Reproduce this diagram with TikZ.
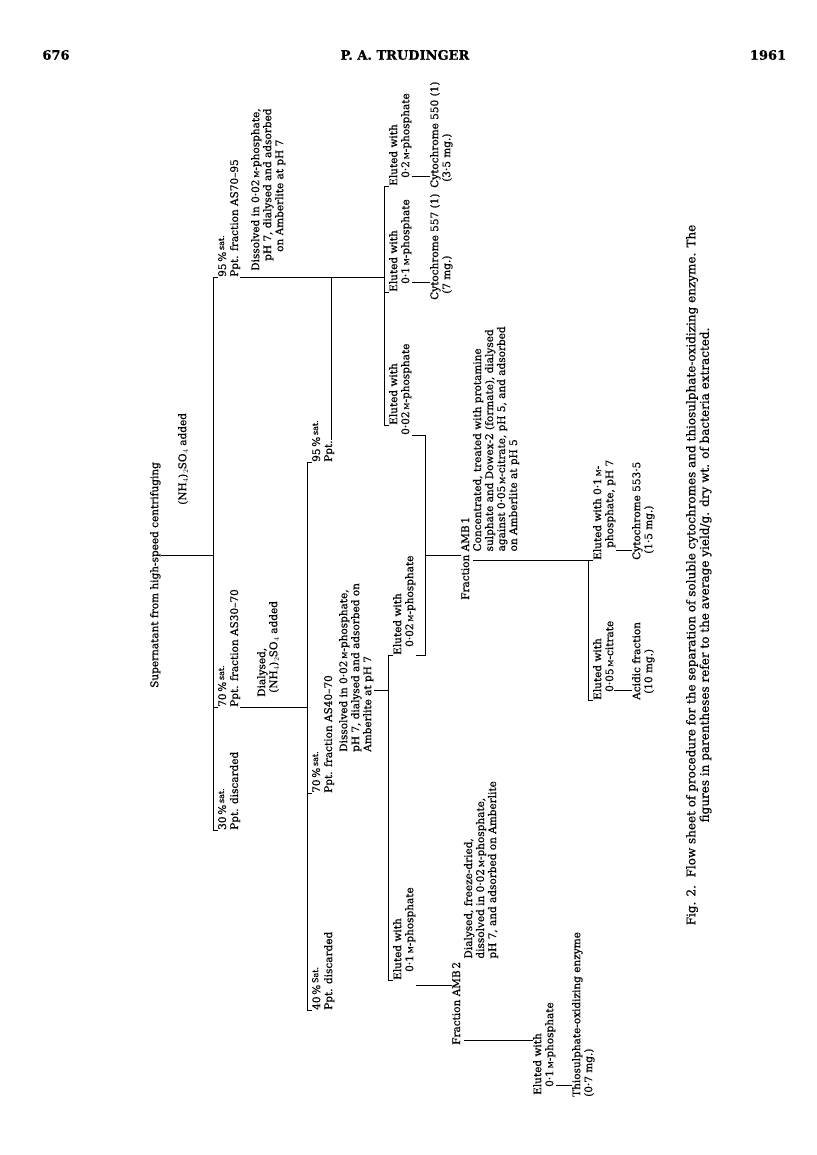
\documentclass[tikz,border=0pt]{standalone}
\usepackage{fontspec}
\setmainfont{DejaVu Serif}[FakeBold=0.6]
\usetikzlibrary{calc}
\newcommand{\Mol}{{\scriptsize M}}
\newcommand{\pcsat}[1]{\,\%\,\raisebox{2pt}{\footnotesize #1}}

\begin{document}
\begin{tikzpicture}[x=1pt, y=-1pt,
    txt/.style={rotate=90, anchor=north west, inner sep=0pt, align=left,
                font=\fontsize{10.5}{12}\selectfont},
    head/.style={inner sep=0pt, font=\fontsize{13}{15}\selectfont\bfseries},
    capt/.style={rotate=90, anchor=north, inner sep=0pt, align=center,
                 font=\fontsize{12}{13.5}\selectfont},
    ln/.style={line width=0.9pt}
]
\useasboundingbox (0,0) rectangle (816,1155);

% running head
\node[head] (pg) at (56,55) {676};
\node[head] (au) at (405,55) {P. A. TRUDINGER};
\node[head] (yr) at (768,55) {1961};

% first split
\node[txt] (root) at (150,688) {Supernatant from high-speed centrifuging};
\node[txt] (nh) at (178,505) {(NH$_4$)$_2$SO$_4$ added};
\coordinate (s0) at (0,555);

\node[txt] (c95) at (218,277) {95\pcsat{sat.}\\Ppt. fraction AS70--95};
\node[txt] (c70) at (218,707) {70\pcsat{sat.}\\Ppt. fraction AS30--70};
\node[txt] (c30) at (218,830) {30\pcsat{sat.}\\Ppt. discarded};
\draw[ln] (c95.north west) -- ++(-5,0) coordinate (b1) |- (c30.north west);
\draw[ln] (c70.north west) -- (c70.north west -| b1);
\draw[ln] (root.south |- s0) -- (b1 |- s0);

\node[txt] (dis1) at (251,271) {Dissolved in 0·02\,\Mol-phosphate,\\
    \hspace*{10pt}pH 7, dialysed and adsorbed\\
    \hspace*{19pt}on Amberlite at pH 7};
\node[txt] (dia) at (257,697) {Dialysed,\\\hspace*{4pt}(NH$_4$)$_2$SO$_4$ added};

% AS30-70 refractionated
\node[txt] (h95) at (312,462) {95\pcsat{sat.}\\Ppt.};
\node[txt] (h70) at (312,793) {70\pcsat{sat.}\\Ppt. fraction AS40--70};
\node[txt] (h40) at (312,1010) {40\pcsat{Sat.}\\Ppt. discarded};
\draw[ln] (h95.north west) -- ++(-5,0) coordinate (b2) |- (h40.north west);
\draw[ln] (h70.north west) -- (h70.north west -| b2);
\draw[ln] (c70.south west) -- (c70.south west -| b2);

\node[txt] (dis2) at (339,752) {Dissolved in 0·02\,\Mol-phosphate,\\
    pH 7, dialysed and adsorbed on\\Amberlite at pH 7};

% elution of AS70-95
\coordinate (j95) at (331,440);
\node[txt] (e02) at (389,186) {Eluted with\\\hspace*{8pt}0·2\,\Mol-phosphate};
\node[txt] (e01) at (389,292) {Eluted with\\\hspace*{8pt}0·1\,\Mol-phosphate};
\node[txt] (k1) at (389,435) {\hspace*{10pt}Eluted with\\0·02\,\Mol-phosphate};
\draw[ln] (e02.north west) -- ++(-5,0) coordinate (b4) |- ($(k1.north west)+(0,-10)$);
\draw[ln] (e01.north west) -- (e01.north west -| b4);
\draw[ln] (c95.south west) -- (c95.south west -| b4);
\draw[ln] (j95) -- (j95 |- c95.south west);

\node[txt] (cy550) at (430,188) {Cytochrome 550 (1)\\\hspace*{6pt}(3·5 mg.)};
\node[txt] (cy557) at (430,300) {Cytochrome 557 (1)\\\hspace*{6pt}(7 mg.)};
\path ($(e02.south west)+(0,-10)$) coordinate (t1);
\path ($(e01.south west)+(0,-10)$) coordinate (t2);
\draw[ln] (t1) -- (t1 -| cy550.north);
\draw[ln] (t2) -- (t2 -| cy557.north);

% elution of AS40-70
\node[txt] (k2) at (393,655) {Eluted with\\\hspace*{8pt}0·02\,\Mol-phosphate};
\node[txt] (l1) at (393,980) {Eluted with\\\hspace*{8pt}0·1\,\Mol-phosphate};
\draw[ln] (k2.north west) -- ++(-5,0) coordinate (b3) |- (l1.north west);
\coordinate (s3) at (0,690);
\draw[ln] (dis2.south |- s3) -- (b3 |- s3);

% AMB1
\node[txt] (amb1) at (461,600) {Fraction AMB\,1\\
    \hphantom{Fraction\ }Concentrated, treated with protamine\\
    \hphantom{Fraction\ }sulphate and Dowex-2 (formate), dialysed\\
    \hphantom{Fraction\ }against 0·05\,\Mol-citrate, pH 5, and adsorbed\\
    \hphantom{Fraction\ }on Amberlite at pH 5};
\draw[ln] (k1.south west) -- ++(14,0) coordinate (b5) |- (k2.south west);
\coordinate (s5) at (0,555);
\draw[ln] (b5 |- s5) -- (amb1.north |- s5);

\node[txt] (e5) at (593,560) {Eluted with 0·1\,\Mol-\\\hspace*{12pt}phosphate, pH 7};
\node[txt] (e6) at (593,700) {Eluted with\\\hspace*{8pt}0·05\,\Mol-citrate};
\draw[ln] (e5.north west) -- ++(-5,0) coordinate (b6) |- (e6.north west);
\path (amb1.north west) ++(12,-40) coordinate (a1);
\draw[ln] (a1) -- (a1 -| b6);

\node[txt] (cy553) at (632,560) {Cytochrome 553·5\\\hspace*{6pt}(1·5 mg.)};
\node[txt] (acid) at (632,700) {Acidic fraction\\\hspace*{6pt}(10 mg.)};
\path ($(e5.south west)+(0,-10)$) coordinate (t3);
\path ($(e6.south west)+(0,-10)$) coordinate (t4);
\draw[ln] (t3) -- (t3 -| cy553.north);
\draw[ln] (t4) -- (t4 -| acid.north);

% AMB2
\node[txt] (amb2) at (452,1045) {Fraction AMB\,2\\
    \hphantom{Fraction AMB\,2\ }Dialysed, freeze-dried,\\
    \hphantom{Fraction AMB\,2\ }dissolved in 0·02\,\Mol-phosphate,\\
    \hphantom{Fraction AMB\,2\ }pH 7, and adsorbed on Amberlite};
\coordinate (s7) at (0,985);
\draw[ln] (l1.south |- s7) -- (amb2.north |- s7);

\node[txt] (e7) at (533,1095) {Eluted with\\\hspace*{8pt}0·1\,\Mol-phosphate};
\path (amb2.north west) ++(12,-5) coordinate (a2);
\draw[ln] (a2) -- (a2 -| e7.north);

\node[txt] (thio) at (572,1097) {Thiosulphate-oxidizing enzyme\\(0·7 mg.)};
\path ($(e7.south west)+(0,-10)$) coordinate (t7);
\draw[ln] (t7) -- (t7 -| thio.north);

% caption
\node[capt] (cap) at (686,575) {Fig. 2.\ \ Flow sheet of procedure for the separation of soluble cytochromes and thiosulphate-oxidizing enzyme. The\\
    figures in parentheses refer to the average yield/g. dry wt. of bacteria extracted.};
\end{tikzpicture}
\end{document}
